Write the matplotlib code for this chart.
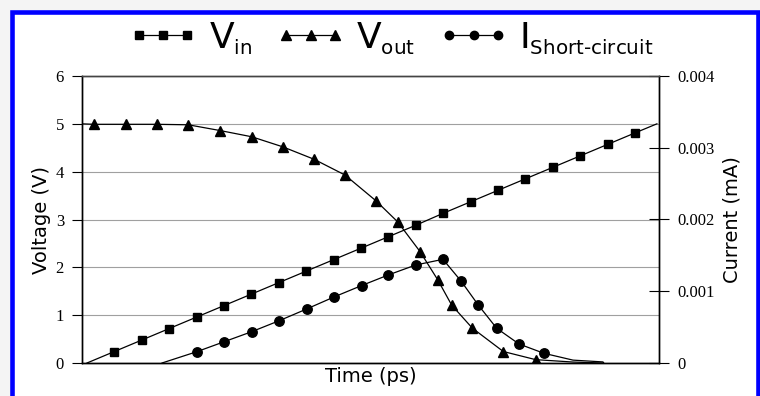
import matplotlib
matplotlib.use("Agg")
import matplotlib.pyplot as plt
import matplotlib._mathtext as mathtext_internals
from matplotlib.lines import Line2D
from matplotlib.patches import Rectangle

# Input voltage ramp (time in ps, volts)
t_in = [0, 5, 10, 15, 20, 25, 30, 35, 40, 45, 50, 55, 60, 65, 70, 75, 80, 85, 90, 95, 100, 104]
v_in = [0, 0.24, 0.48, 0.72, 0.96, 1.20, 1.44, 1.68, 1.92, 2.16, 2.40, 2.64, 2.88, 3.13,
        3.37, 3.61, 3.85, 4.09, 4.33, 4.57, 4.81, 5.0]

# Output voltage
t_out = [-0.91, 1.33, 7.06, 12.72, 18.49, 24.27, 30.05, 35.71, 41.42, 47.08, 52.74,
         56.70, 60.77, 64.00, 66.55, 70.31, 75.97, 81.88, 88.69, 94.16]
v_out = [5.0, 4.99, 4.99, 4.99, 4.98, 4.86, 4.73, 4.52, 4.26, 3.93, 3.39,
         2.95, 2.33, 1.74, 1.21, 0.73, 0.24, 0.07, 0.02, 0.0]

# Short-circuit current (mA)
t_sc = [13.69, 20.02, 25.05, 30.05, 35.09, 40.09, 45.07, 50.13, 54.98, 59.98, 64.96,
        68.25, 71.40, 74.76, 78.83, 83.39, 88.69, 94.16, 94.3]
i_sc = [0, 0.000157, 0.000297, 0.000436, 0.000590, 0.000753, 0.000920, 0.00108, 0.001227,
        0.001366, 0.001445, 0.001143, 0.000808, 0.000484, 0.000265, 0.000135, 0.00004,
        0.000015, 0.0]

v_ticks = [0, 1, 2, 3, 4, 5, 6]
i_ticks = [0, 0.001, 0.002, 0.003, 0.004]
i_labels = ["0", "0.001", "0.002", "0.003", "0.004"]

serif = "Liberation Serif"
sans = "DejaVu Sans"

# smaller subscripts in the legend labels
mathtext_internals.SHRINK_FACTOR = 0.55

fig = plt.figure(figsize=(7.6, 3.96), dpi=100, facecolor="#f4f4f4")
fig.patches.append(Rectangle((11.7 / 760, -0.05), 745.8 / 760, 1 - 11.7 / 396 + 0.05,
                             transform=fig.transFigure, facecolor="white",
                             edgecolor="#0000ff", linewidth=3.3, zorder=-10))

ax = fig.add_axes([82 / 760, 1 - 363 / 396, 577 / 760, 287 / 396])
ax.set_facecolor("none")
ax2 = ax.twinx()

ax.plot(t_in, v_in, color="black", lw=0.9, marker="s", ms=5.8,
        markevery=slice(1, len(t_in) - 1))
ax.plot(t_out, v_out, color="black", lw=0.9, marker="^", ms=7.5,
        markevery=slice(1, len(t_out) - 2))
ax2.plot(t_sc, i_sc, color="black", lw=0.9, marker="o", ms=6.8,
         markevery=slice(1, len(t_sc) - 3))

ax.set_xlim(-0.91, 104.38)
ax.set_ylim(0, 6)
ax2.set_ylim(0, 0.004)

ax.set_xticks([])
ax.set_yticks(v_ticks)
ax.set_yticklabels([str(v) for v in v_ticks], fontfamily=serif, fontsize=12)
ax.tick_params(axis="y", direction="out", length=7, width=0.8, pad=6)
ax2.set_yticks(i_ticks)
ax2.set_yticklabels(i_labels, fontfamily=serif, fontsize=12)
ax2.tick_params(axis="y", direction="inout", length=14, width=0.8, pad=6)

ax.grid(axis="y", color="#a0a0a0", lw=0.8)
ax.set_axisbelow(True)
for s in ["left", "right", "bottom"]:
    ax.spines[s].set_color("black")
    ax2.spines[s].set_color("black")
ax.spines["top"].set_color("#444444")
ax2.spines["top"].set_color("#444444")
for a in (ax, ax2):
    for s in a.spines.values():
        s.set_linewidth(1.0)

ax.set_ylabel("Voltage (V)", fontfamily=sans, fontsize=14, labelpad=3)
ax2.set_ylabel("Current (mA)", fontfamily=sans, fontsize=14, labelpad=6)
ax.set_xlabel("Time (ps)", fontfamily=sans, fontsize=14, labelpad=3)

handles = [
    Line2D([], [], color="black", lw=0.9, marker="s", ms=5.5),
    Line2D([], [], color="black", lw=0.9, marker="^", ms=6.5),
    Line2D([], [], color="black", lw=0.9, marker="o", ms=6),
]
labels = [r"$\mathregular{V_{in}}$", r"$\mathregular{V_{out}}$",
          r"$\mathregular{I_{Short\text{-}circuit}}$"]
fig.legend(handles, labels, loc="center", bbox_to_anchor=(391 / 760, 1 - 38 / 396),
           ncol=3, frameon=False, numpoints=3, handlelength=1.94, handletextpad=0.3,
           columnspacing=0.64, prop={"family": sans, "size": 26})

fig.savefig("out.png", dpi=100, facecolor=fig.get_facecolor())
